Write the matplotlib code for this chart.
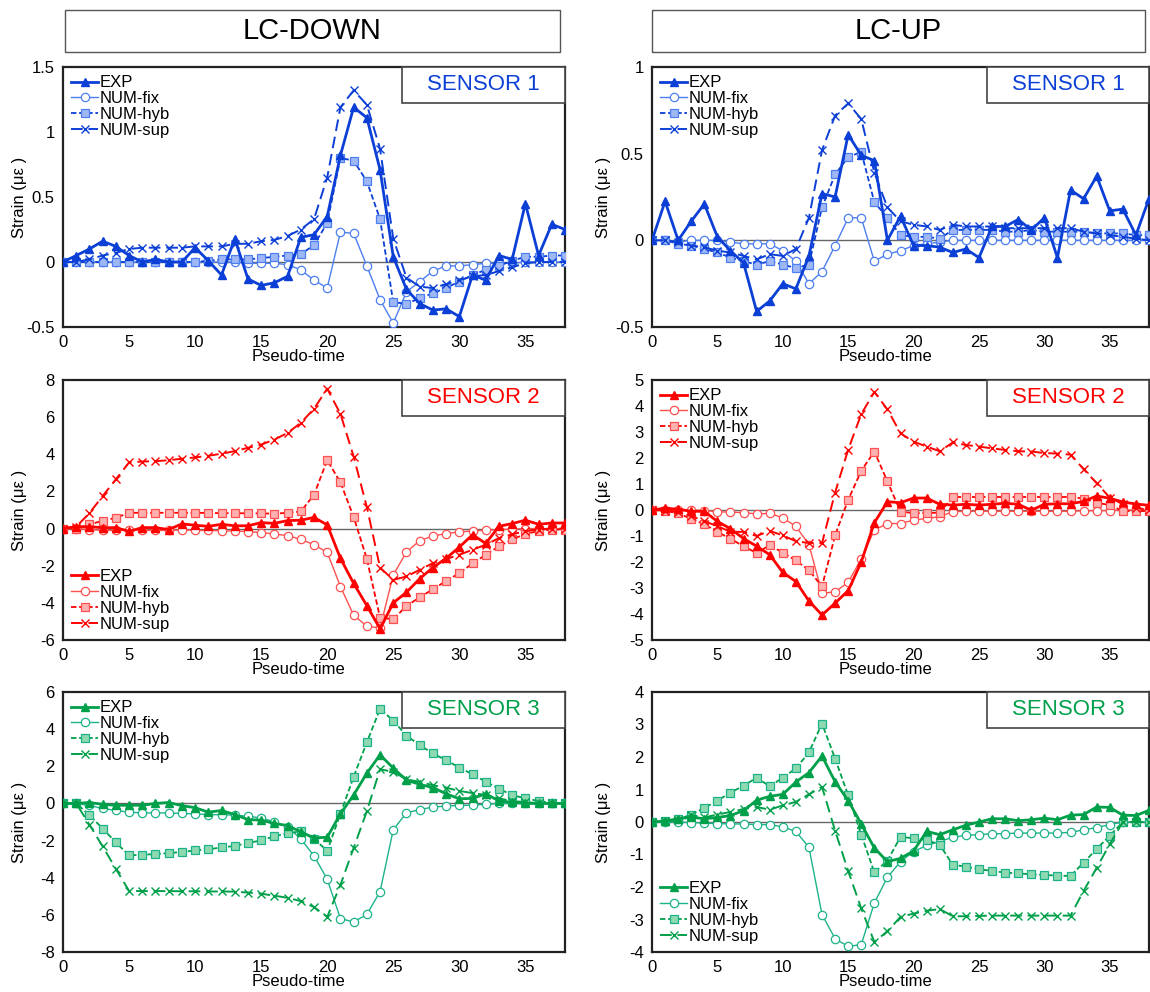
import matplotlib
matplotlib.use("Agg")
import matplotlib.pyplot as plt
from matplotlib.patches import Rectangle
from matplotlib.ticker import FuncFormatter, MultipleLocator

plt.rcParams['font.family'] = ['Liberation Sans', 'DejaVu Sans']
plt.rcParams['axes.unicode_minus'] = False

t = list(range(39))

# ---- LC-DOWN, SENSOR 1 ----
down1_exp = [0, 0.05, 0.10, 0.16, 0.12, 0.05, 0.0, 0.02, 0.0, 0.0, 0.11, 0.01, -0.10, 0.18, -0.13, -0.18, -0.16, -0.11, 0.19, 0.21,
             0.35, 0.82, 1.19, 1.11, 0.71, 0.04, -0.21, -0.32, -0.37, -0.36, -0.42, -0.10, -0.14, 0.05, 0.02, 0.45, 0.05, 0.29, 0.25]
down1_fix = [0, 0, 0, 0, 0, 0, 0, 0, 0, 0, 0, 0, 0, 0, -0.01, -0.01, -0.01, -0.02, -0.06, -0.14,
             -0.20, 0.23, 0.22, -0.03, -0.29, -0.47, -0.23, -0.15, -0.07, -0.03, -0.03, -0.02, -0.01, -0.01, -0.01, 0, 0, 0, 0]
down1_hyb = [0, 0, 0, 0, 0, 0, 0, 0, 0, 0, 0, 0.01, 0.02, 0.02, 0.02, 0.03, 0.04, 0.05, 0.06, 0.13,
             0.30, 0.80, 0.78, 0.62, 0.33, -0.31, -0.32, -0.28, -0.24, -0.20, -0.15, -0.10, -0.06, -0.03, 0.01, 0.04, 0.04, 0.05, 0.05]
down1_sup = [0, 0, 0.02, 0.05, 0.07, 0.10, 0.11, 0.11, 0.11, 0.11, 0.12, 0.12, 0.12, 0.14, 0.14, 0.16, 0.17, 0.20, 0.25, 0.33,
             0.65, 1.19, 1.32, 1.21, 0.87, 0.18, -0.12, -0.19, -0.20, -0.17, -0.14, -0.11, -0.10, -0.07, -0.04, -0.01, 0, 0, 0]

# ---- LC-UP, SENSOR 1 ----
up1_exp = [0, 0.225, 0.0, 0.11, 0.21, 0.02, -0.06, -0.13, -0.41, -0.35, -0.25, -0.28, -0.09, 0.27, 0.25, 0.61, 0.49, 0.46, 0.0, 0.14,
           -0.03, -0.03, -0.04, -0.07, -0.05, -0.10, 0.08, 0.08, 0.12, 0.06, 0.13, -0.10, 0.29, 0.24, 0.37, 0.17, 0.18, 0.03, 0.24]
up1_fix = [0, 0, -0.01, 0, 0, 0, -0.01, -0.02, -0.02, -0.02, -0.06, -0.12, -0.25, -0.18, -0.03, 0.13, 0.13, -0.12, -0.08, -0.06,
           -0.03, -0.02, -0.01, 0, 0, 0, 0, 0, 0, 0, 0, 0, 0, 0, 0, 0, 0, 0, 0]
up1_hyb = [0, 0, -0.02, -0.03, -0.05, -0.07, -0.10, -0.12, -0.14, -0.12, -0.14, -0.16, -0.14, 0.19, 0.38, 0.48, 0.51, 0.22, 0.13, 0.03,
           0.02, 0.02, 0.01, 0.06, 0.06, 0.06, 0.06, 0.05, 0.05, 0.06, 0.05, 0.05, 0.05, 0.05, 0.04, 0.04, 0.04, 0.03, 0.03]
up1_sup = [0, 0, -0.01, -0.03, -0.04, -0.06, -0.07, -0.09, -0.11, -0.08, -0.09, -0.05, 0.13, 0.52, 0.72, 0.79, 0.70, 0.39, 0.19, 0.11,
           0.09, 0.08, 0.06, 0.09, 0.08, 0.08, 0.08, 0.07, 0.07, 0.07, 0.07, 0.07, 0.07, 0.05, 0.04, 0.03, 0.02, 0.01, 0.0]

# ---- LC-DOWN, SENSOR 2 ----
down2_exp = [0, 0.1, 0.1, 0.05, 0.05, -0.15, 0.05, 0.05, -0.05, 0.25, 0.18, 0.12, 0.23, 0.15, 0.15, 0.32, 0.28, 0.43, 0.45, 0.6,
             0.2, -1.6, -2.95, -4.15, -5.4, -4.0, -3.43, -2.7, -2.1, -1.6, -1.0, -0.33, -0.8, 0.12, 0.27, 0.45, 0.23, 0.3, 0.3]
down2_fix = [0, 0, -0.05, -0.1, -0.1, -0.05, -0.1, -0.1, -0.1, -0.07, -0.1, -0.1, -0.12, -0.13, -0.16, -0.22, -0.29, -0.38, -0.58, -0.87,
             -1.28, -3.12, -4.66, -5.26, -5.35, -2.5, -1.26, -0.65, -0.4, -0.27, -0.18, -0.13, -0.09, -0.05, -0.03, 0, 0, 0, 0]
down2_hyb = [0, 0, 0.22, 0.42, 0.58, 0.85, 0.85, 0.85, 0.85, 0.85, 0.85, 0.84, 0.83, 0.83, 0.82, 0.82, 0.8, 0.85, 0.92, 1.82,
             3.68, 2.49, 0.63, -1.63, -4.8, -4.88, -4.17, -3.7, -3.27, -2.82, -2.4, -1.88, -1.41, -0.96, -0.58, -0.29, -0.14, -0.05, -0.05]
down2_sup = [0, 0.1, 0.83, 1.75, 2.65, 3.56, 3.61, 3.63, 3.68, 3.76, 3.83, 3.92, 4.03, 4.17, 4.35, 4.52, 4.79, 5.15, 5.69, 6.45,
             7.53, 6.18, 3.88, 1.16, -2.1, -2.76, -2.58, -2.22, -1.86, -1.64, -1.41, -1.14, -0.87, -0.51, -0.31, -0.14, -0.05, 0, 0]

# ---- LC-UP, SENSOR 2 ----
up2_exp = [0, 0.07, 0.03, -0.05, -0.05, -0.44, -0.72, -1.1, -1.39, -1.72, -2.4, -2.75, -3.5, -4.04, -3.58, -3.1, -2.0, -0.49, 0.32, 0.28,
           0.46, 0.46, 0.22, 0.19, 0.22, 0.19, 0.22, 0.26, 0.22, -0.01, 0.22, 0.24, 0.24, 0.33, 0.54, 0.45, 0.31, 0.23, 0.18]
up2_fix = [0, 0, 0, 0, -0.02, -0.07, -0.08, -0.1, -0.15, -0.13, -0.3, -0.63, -1.33, -3.2, -3.15, -2.78, -1.88, -0.77, -0.52, -0.52,
           -0.39, -0.32, -0.26, -0.06, -0.05, -0.05, -0.05, -0.05, -0.05, -0.05, -0.05, -0.05, -0.05, -0.03, -0.03, -0.02, 0, 0, 0]
up2_hyb = [0, -0.03, -0.13, -0.34, -0.55, -0.84, -1.11, -1.39, -1.66, -1.35, -1.64, -1.94, -2.32, -2.94, -0.97, 0.39, 1.51, 2.25, 1.1, -0.06,
           -0.12, -0.12, -0.1, 0.5, 0.5, 0.5, 0.5, 0.5, 0.5, 0.5, 0.5, 0.5, 0.5, 0.44, 0.28, 0.19, -0.04, -0.04, -0.04]
up2_sup = [0, -0.02, -0.07, -0.23, -0.43, -0.62, -0.84, -0.84, -1.0, -0.8, -0.98, -1.2, -1.27, -1.27, 0.67, 2.32, 3.69, 4.54, 3.87, 2.95,
           2.63, 2.44, 2.26, 2.6, 2.5, 2.44, 2.37, 2.31, 2.26, 2.25, 2.19, 2.17, 2.13, 1.57, 1.03, 0.48, 0.22, 0.09, 0.0]

# ---- LC-DOWN, SENSOR 3 ----
down3_exp = [0, 0, 0.05, -0.05, -0.1, -0.1, -0.1, 0.0, 0.05, -0.12, -0.23, -0.47, -0.38, -0.6, -0.87, -0.9, -1.08, -1.19, -1.53, -1.86,
             -1.82, -0.56, 0.45, 1.63, 2.62, 1.9, 1.25, 1.03, 0.85, 0.52, 0.25, 0.27, 0.52, 0.13, 0.07, 0, 0, 0, 0]
down3_fix = [0, 0, -0.11, -0.27, -0.38, -0.47, -0.51, -0.51, -0.51, -0.54, -0.56, -0.6, -0.61, -0.63, -0.69, -0.78, -0.99, -1.26, -1.91, -2.82,
             -4.08, -6.2, -6.38, -5.98, -4.75, -1.41, -0.51, -0.33, -0.2, -0.14, -0.11, -0.09, -0.05, 0, 0, 0, 0, 0, 0]
down3_hyb = [0, 0, -0.63, -1.35, -2.1, -2.8, -2.76, -2.73, -2.67, -2.62, -2.53, -2.47, -2.37, -2.29, -2.13, -1.99, -1.77, -1.61, -1.5, -1.91,
             -2.55, -0.56, 1.43, 3.29, 5.09, 4.46, 3.65, 3.14, 2.69, 2.33, 1.93, 1.57, 1.17, 0.79, 0.45, 0.27, 0.13, 0.04, 0]
down3_sup = [0, 0, -1.14, -2.31, -3.52, -4.71, -4.72, -4.72, -4.72, -4.73, -4.73, -4.74, -4.74, -4.75, -4.8, -4.86, -4.97, -5.08, -5.26, -5.58,
             -6.11, -4.39, -2.4, -0.42, 1.84, 1.7, 1.3, 1.16, 0.98, 0.85, 0.67, 0.56, 0.45, 0.27, 0.13, 0.07, 0.02, 0, 0]

# ---- LC-UP, SENSOR 3 ----
up3_exp = [0, 0.03, 0.1, 0.15, 0.1, 0.14, 0.2, 0.35, 0.67, 0.79, 0.85, 1.23, 1.52, 2.03, 1.24, 0.66, -0.06, -0.8, -1.22, -1.12,
           -0.89, -0.29, -0.39, -0.24, -0.1, 0.0, 0.1, 0.1, 0.04, 0.07, 0.12, 0.07, 0.21, 0.23, 0.46, 0.45, 0.21, 0.2, 0.36]
up3_fix = [0, 0, 0, -0.02, -0.03, -0.05, -0.06, -0.06, -0.08, -0.08, -0.15, -0.29, -0.78, -2.85, -3.59, -3.83, -3.77, -2.49, -1.7, -1.22,
           -0.91, -0.72, -0.6, -0.47, -0.41, -0.39, -0.36, -0.36, -0.34, -0.34, -0.34, -0.34, -0.32, -0.24, -0.17, -0.08, 0, 0, 0]
up3_hyb = [0, 0.02, 0.08, 0.23, 0.43, 0.66, 0.9, 1.12, 1.36, 1.1, 1.36, 1.65, 2.14, 3.03, 1.95, 0.82, -0.39, -1.55, -1.19, -0.46,
           -0.5, -0.55, -0.7, -1.32, -1.37, -1.46, -1.5, -1.56, -1.58, -1.61, -1.63, -1.65, -1.66, -1.25, -0.83, -0.42, 0.0, 0, 0]
up3_sup = [0, 0.02, 0.05, 0.21, 0.14, 0.23, 0.31, 0.4, 0.46, 0.38, 0.51, 0.62, 0.85, 1.08, -0.27, -1.51, -2.66, -3.69, -3.36, -2.92,
           -2.82, -2.73, -2.68, -2.9, -2.9, -2.89, -2.88, -2.88, -2.88, -2.88, -2.88, -2.88, -2.88, -2.12, -1.41, -0.68, 0.0, 0, 0]

columns = ["LC-DOWN", "LC-UP"]
sensor_names = ["SENSOR 1", "SENSOR 2", "SENSOR 3"]
series_labels = ["EXP", "NUM-fix", "NUM-hyb", "NUM-sup"]
xticks = [0, 5, 10, 15, 20, 25, 30, 35]

panels = [
    [(down1_exp, down1_fix, down1_hyb, down1_sup), (up1_exp, up1_fix, up1_hyb, up1_sup)],
    [(down2_exp, down2_fix, down2_hyb, down2_sup), (up2_exp, up2_fix, up2_hyb, up2_sup)],
    [(down3_exp, down3_fix, down3_hyb, down3_sup), (up3_exp, up3_fix, up3_hyb, up3_sup)],
]
ylims = [[(-0.5, 1.5), (-0.5, 1.0)], [(-6, 8), (-5, 5)], [(-8, 6), (-4, 4)]]
ysteps = [[0.5, 0.5], [2, 1], [2, 1]]
legend_loc = [["upper left", "upper left"], ["lower left", "upper left"], ["upper left", "lower left"]]

main_colors = ["#0b3fd6", "#ff0000", "#00a04a"]
light_colors = ["#4d7ff0", "#ff5050", "#1db38a"]
fill_colors = ["#9fb8f5", "#ffb0b0", "#8fd9b0"]

W, H = 1150, 992
fig = plt.figure(figsize=(W / 100, H / 100), dpi=100)

col_lr = [(63, 565), (652, 1149)]
row_tb = [(67, 327), (380, 640), (692, 952)]
ylabel_x = [-0.072, -0.082]

def fig_rect(l, r, t, b):
    return [l / W, 1 - b / H, (r - l) / W, (b - t) / H]

for ci, (l, r) in enumerate(col_lr):
    # header box
    hl, hr = (65, 560) if ci == 0 else (652, 1145)
    fig.patches.append(Rectangle((hl / W, 1 - 52 / H), (hr - hl) / W, 42 / H,
                                 transform=fig.transFigure, facecolor="white",
                                 edgecolor="#555555", linewidth=1.0))
    fig.text((hl + hr) / 2 / W, 1 - 31 / H, columns[ci], ha="center", va="center",
             fontsize=21, color="black")
    for ri, (tp, bt) in enumerate(row_tb):
        ax = fig.add_axes(fig_rect(l, r, tp, bt))
        exp, fix, hyb, sup = panels[ri][ci]
        mc, lc, fc = main_colors[ri], light_colors[ri], fill_colors[ri]
        ax.axhline(0, color="#666666", linewidth=1.0, zorder=1)
        ax.plot(t, exp, color=mc, linewidth=2.0, marker="^", markersize=6,
                markerfacecolor=mc, markeredgecolor=mc, label=series_labels[0], zorder=5)
        ax.plot(t, fix, color=lc, linewidth=1.0, marker="o", markersize=6,
                markerfacecolor="white", markeredgecolor=lc, markeredgewidth=0.9,
                label=series_labels[1], zorder=3)
        ax.plot(t, hyb, color=mc, linewidth=1.3, linestyle=(0, (3, 1.5)), marker="s",
                markersize=6, markerfacecolor=fc, markeredgecolor=lc, markeredgewidth=0.9,
                label=series_labels[2], zorder=4)
        ax.plot(t, sup, color=mc, linewidth=1.4, linestyle=(0, (6, 3)), marker="x",
                markersize=5.5, markeredgewidth=1.0, label=series_labels[3], zorder=4)
        ax.set_xlim(0, 38)
        ax.set_ylim(*ylims[ri][ci])
        ax.set_xticks(xticks)
        ax.yaxis.set_major_locator(MultipleLocator(ysteps[ri][ci]))
        ax.yaxis.set_major_formatter(FuncFormatter(lambda v, p: f"{v:g}"))
        ax.tick_params(length=0, labelsize=12, pad=6)
        for s in ax.spines.values():
            s.set_linewidth(1.6)
            s.set_color("#222222")
        ax.set_ylabel("Strain (με )", fontsize=12)
        ax.yaxis.set_label_coords(ylabel_x[ci], 0.5)
        ax.set_xlabel("Pseudo-time", fontsize=12)
        ax.xaxis.set_label_coords(0.47, -0.085)
        # sensor box
        ax.add_patch(Rectangle((0.675, 0.862), 0.325, 0.138, transform=ax.transAxes,
                               facecolor="white", edgecolor="#444444", linewidth=1.2,
                               zorder=10, clip_on=False))
        ax.text(0.8375, 0.932, sensor_names[ri], transform=ax.transAxes, ha="center",
                va="center", fontsize=16, color=mc, zorder=11)
        ax.legend(loc=legend_loc[ri][ci], frameon=False, fontsize=12, handlelength=1.6,
                  handletextpad=0.1, labelspacing=0.05, borderaxespad=0.3,
                  borderpad=0.2)

fig.savefig("out.png", dpi=100)
